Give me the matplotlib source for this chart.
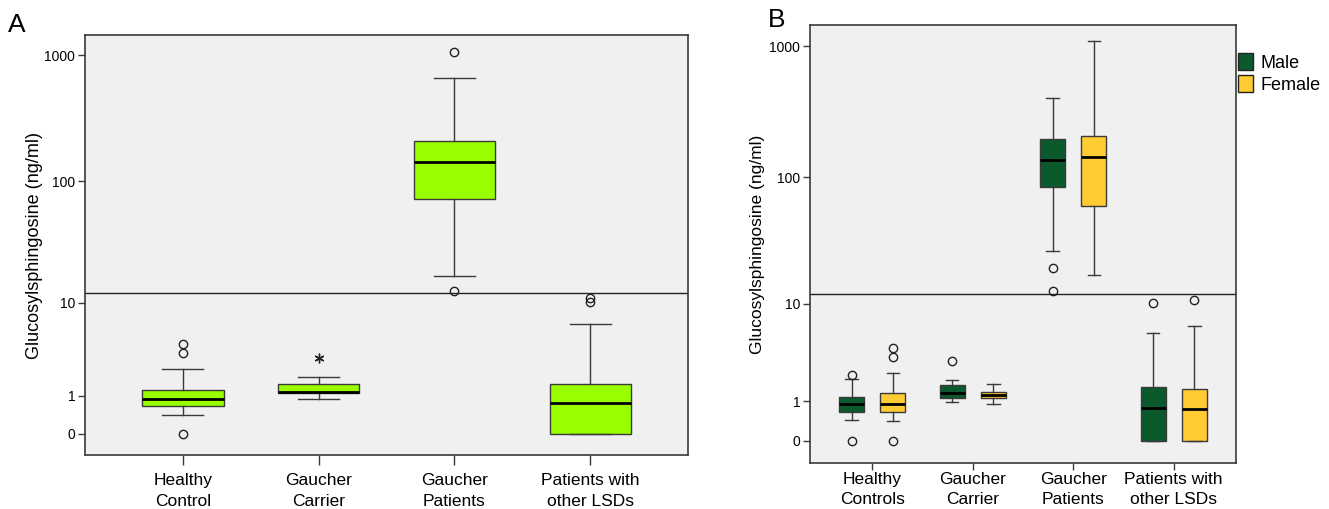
import numpy as np
import matplotlib.pyplot as plt

plt.rcParams['font.family'] = ['Liberation Sans', 'DejaVu Sans']

# ---- data ----
groups_a = ["Healthy\nControl", "Gaucher\nCarrier", "Gaucher\nPatients", "Patients with\nother LSDs"]
# q1, med, q3, whislo, whishi, fliers
stats_a = [
    (0.667, 0.89, 1.22, 0.41, 2.29, [0.0, 3.36, 4.14]),
    (1.10, 1.16, 1.48, 0.89, 1.84, [3.02]),
    (72.2, 143.0, 208.0, 16.9, 662.0, [12.7, 1068.0]),
    (0.0, 0.76, 1.50, 0.0, 6.4, [10.2, 11.0]),
]
star_flier_a = [False, True, False, False]

groups_b = ["Healthy\nControls", "Gaucher\nCarrier", "Gaucher\nPatients", "Patients with\nother LSDs"]
sexes = ["Male", "Female"]
stats_male = [
    (0.672, 0.91, 1.15, 0.454, 1.94, [0.0, 2.15]),
    (1.11, 1.30, 1.66, 0.99, 1.89, [3.05]),
    (83.5, 134.6, 198.0, 26.7, 400.0, [12.8, 19.75]),
    (0.0, 0.79, 1.57, 0.0, 5.58, [10.1]),
]
stats_female = [
    (0.672, 0.91, 1.33, 0.411, 2.31, [0.0, 3.375, 4.06]),
    (1.136, 1.236, 1.356, 0.90, 1.70, []),
    (59.6, 143.7, 206.0, 17.2, 1091.0, []),
    (0.0, 0.74, 1.47, 0.0, 6.47, [10.86]),
]
yticks = [0, 1, 10, 100, 1000]
break_at = 12

lime = "#99ff00"
male_c = "#0b5a2e"
female_c = "#ffcc33"
bg = "#f0f0f0"
edge = "#3a3a3a"


def fwd(x):
    return np.log10(np.maximum(1 + np.asarray(x, float), 1e-9))


def inv(y):
    return 10 ** np.asarray(y, float) - 1


def to_dict(s):
    q1, med, q3, lo, hi, fl = s
    return dict(q1=q1, med=med, q3=q3, whislo=lo, whishi=hi, fliers=fl)


def draw_box(ax, s, pos, width, color, star=False):
    marker = dict(marker=(6, 2, 0), markersize=7, markeredgecolor="#222222",
                  linestyle="none", markeredgewidth=1) if star else \
        dict(marker="o", markersize=6, markerfacecolor="none",
             markeredgecolor="#222222", markeredgewidth=1, linestyle="none")
    ax.bxp([to_dict(s)], positions=[pos], widths=width, patch_artist=True,
           showfliers=True, manage_ticks=False,
           boxprops=dict(facecolor=color, edgecolor=edge, linewidth=1),
           medianprops=dict(color="black", linewidth=2),
           whiskerprops=dict(color=edge, linewidth=1),
           capprops=dict(color=edge, linewidth=1),
           capwidths=width * 0.5,
           flierprops=marker)


def style(ax, labels, xlim, xtick_len, xpad, ylab_size, ylab_pad):
    ax.set_facecolor(bg)
    ax.set_yscale('function', functions=(fwd, inv))
    ax.set_ylim(-0.32, 1450)
    ax.set_xlim(*xlim)
    ax.set_yticks(yticks)
    ax.set_yticklabels([str(t) for t in yticks], fontsize=10)
    ax.set_xticks(range(len(labels)))
    ax.set_xticklabels(labels, fontsize=12.5, linespacing=1.45)
    ax.tick_params(axis='y', length=5, width=1, color=edge, pad=2)
    ax.tick_params(axis='x', length=xtick_len, width=1, color=edge, pad=xpad)
    for sp in ax.spines.values():
        sp.set_color(edge)
        sp.set_linewidth(1.2)
    ax.axhline(break_at, color="#222222", linewidth=1)
    ax.set_ylabel("Glucosylsphingosine (ng/ml)", fontsize=ylab_size,
                  labelpad=ylab_pad)


fig = plt.figure(figsize=(13.29, 5.09), dpi=100)

ax_a = fig.add_axes([0.064, 0.106, 0.4537, 0.825])
for i, s in enumerate(stats_a):
    draw_box(ax_a, s, i, 0.6, lime, star=star_flier_a[i])
style(ax_a, groups_a, (-0.72, 3.72), 7, 6, 13, 1)

ax_b = fig.add_axes([0.6095, 0.0904, 0.3205, 0.8605])
off = 0.205
for i in range(len(groups_b)):
    draw_box(ax_b, stats_male[i], i - off, 0.25, male_c)
    draw_box(ax_b, stats_female[i], i + off, 0.25, female_c)
style(ax_b, groups_b, (-0.62, 3.62), 5, 1.5, 12.5, 3)

handles = [plt.Rectangle((0, 0), 1, 1, facecolor=c, edgecolor="#222222")
           for c in (male_c, female_c)]
fig.legend(handles, sexes, loc="upper left", bbox_to_anchor=(0.926, 0.91),
           frameon=False, fontsize=13, handlelength=0.85, handleheight=1.05,
           handletextpad=0.4, labelspacing=0.2, borderaxespad=0)

fig.text(0.006, 0.975, "A", fontsize=19, va="top")
fig.text(0.578, 0.985, "B", fontsize=19, va="top")

fig.savefig("out.png", dpi=100)
